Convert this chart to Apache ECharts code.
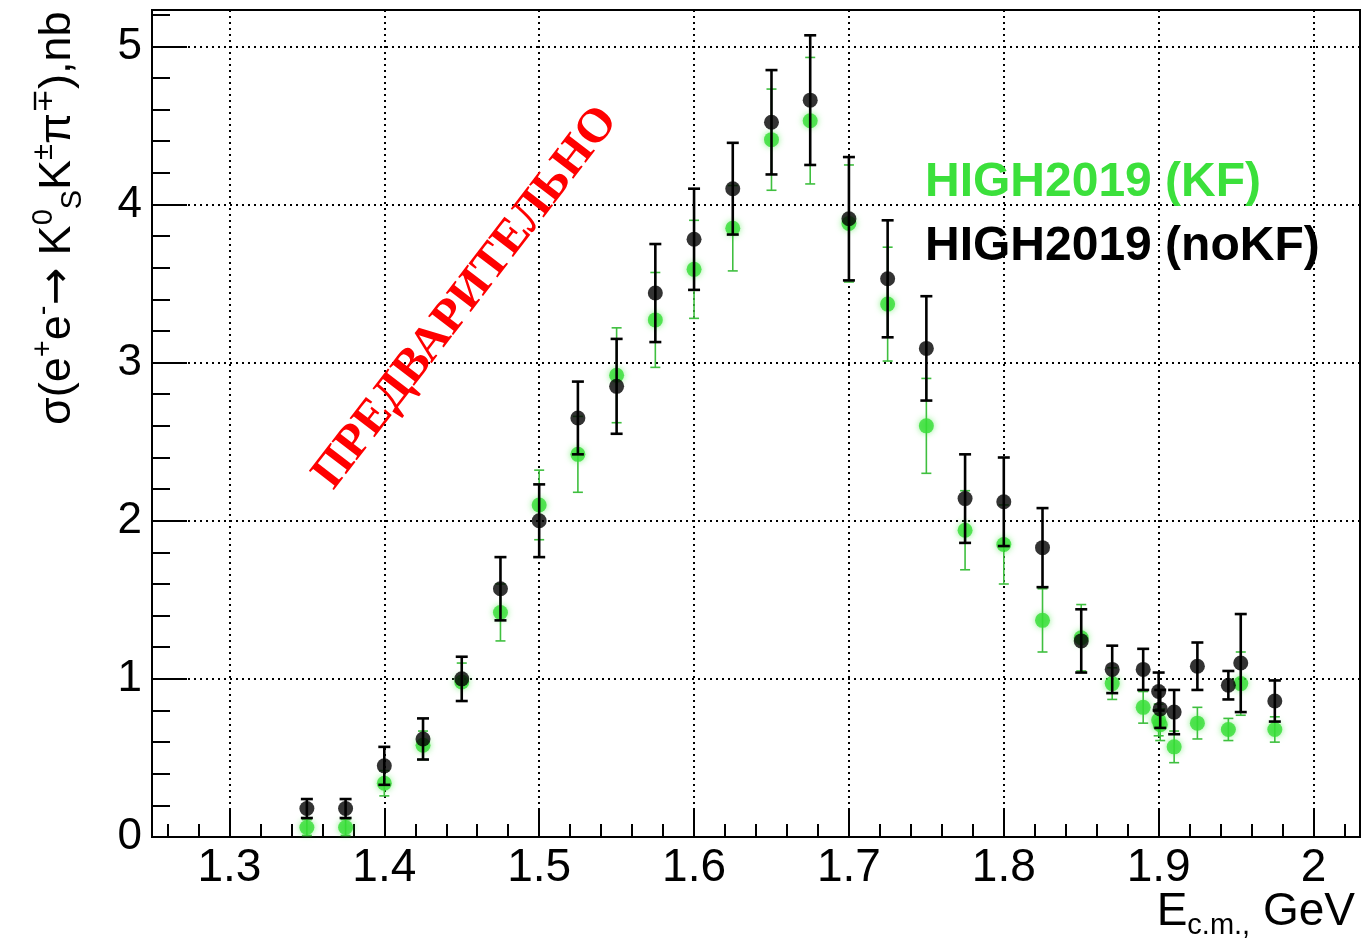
<!DOCTYPE html>
<html>
<head>
<meta charset="utf-8">
<script src="https://cdn.jsdelivr.net/npm/echarts@6/dist/echarts.min.js"></script>
<style>
html,body{margin:0;padding:0;background:#fff;}
#chart{width:1366px;height:947px;}
</style>
</head>
<body>
<div id="chart"></div>
<script>
// ---- data ----
const energyNoKF = [1.35,1.375,1.4,1.425,1.45,1.475,1.5,1.525,1.55,1.575,1.6,1.625,1.65,1.675,1.7,1.725,1.75,1.775,1.8,1.825,1.85,1.87,1.89,1.9,1.901,1.91,1.925,1.945,1.953,1.975];
const sigmaNoKF  = [0.18,0.18,0.45,0.62,1.00,1.57,2.00,2.65,2.85,3.44,3.78,4.10,4.52,4.66,3.91,3.53,3.09,2.14,2.12,1.83,1.24,1.06,1.06,0.92,0.81,0.79,1.08,0.96,1.10,0.86];
const errNoKF    = [0.06,0.06,0.12,0.13,0.14,0.20,0.23,0.23,0.30,0.31,0.32,0.29,0.33,0.41,0.39,0.37,0.33,0.28,0.28,0.25,0.20,0.15,0.13,0.12,0.12,0.14,0.15,0.09,0.31,0.13];

const energyKF = [1.35,1.375,1.4,1.425,1.45,1.475,1.5,1.525,1.55,1.575,1.6,1.625,1.65,1.675,1.7,1.725,1.75,1.775,1.8,1.825,1.85,1.87,1.89,1.9,1.901,1.91,1.925,1.945,1.953,1.975];
const sigmaKF  = [0.06,0.06,0.34,0.58,0.98,1.42,2.10,2.42,2.92,3.27,3.59,3.85,4.41,4.53,3.88,3.37,2.60,1.94,1.85,1.37,1.26,0.97,0.82,0.74,0.71,0.57,0.72,0.68,0.97,0.68];
const errKF    = [0.05,0.05,0.08,0.09,0.12,0.18,0.22,0.24,0.30,0.30,0.31,0.27,0.32,0.40,0.37,0.36,0.30,0.25,0.25,0.20,0.21,0.10,0.10,0.10,0.10,0.10,0.10,0.07,0.20,0.08];

const xMajorTicks = [1.3,1.4,1.5,1.6,1.7,1.8,1.9,2.0];
const xMinorTicks = [1.26,1.28,1.32,1.34,1.36,1.38,1.42,1.44,1.46,1.48,1.52,1.54,1.56,1.58,1.62,1.64,1.66,1.68,1.72,1.74,1.76,1.78,1.82,1.84,1.86,1.88,1.92,1.94,1.96,1.98,2.02];
const yMajorTicks = [0,1,2,3,4,5];
const yMinorTicks = [0.2,0.4,0.6,0.8,1.2,1.4,1.6,1.8,2.2,2.4,2.6,2.8,3.2,3.4,3.6,3.8,4.2,4.4,4.6,4.8,5.2];

const legendKF = 'HIGH2019 (KF)';
const legendNoKF = 'HIGH2019 (noKF)';
const watermark = 'ПРЕДВАРИТЕЛЬНО';

// ---- chart ----
const X_MIN = 1.25, X_MAX = 2.03, Y_MIN = 0, Y_MAX = 5.23;
const FONT = '"Liberation Sans", Arial, Helvetica, sans-serif';
const GRID = {left:152, top:10, width:1208, height:827};

function toTriples(xs, ys, es){ return xs.map((x,i)=>[x, ys[i], es[i]]); }

function errRender(color, width, cap){
  return function(params, api){
    const x = api.value(0), y = api.value(1), e = api.value(2);
    const top = api.coord([x, y + e]);
    const bot = api.coord([x, y - e]);
    const st = {stroke: color, lineWidth: width};
    return {type:'group', children:[
      {type:'line', shape:{x1:top[0], y1:top[1], x2:bot[0], y2:bot[1]}, style:st},
      {type:'line', shape:{x1:top[0]-cap, y1:top[1], x2:top[0]+cap, y2:top[1]}, style:st},
      {type:'line', shape:{x1:bot[0]-cap, y1:bot[1], x2:bot[0]+cap, y2:bot[1]}, style:st}
    ]};
  };
}

const chart = echarts.init(document.getElementById('chart'), null, {renderer:'canvas'});

const option = {
  animation:false,
  backgroundColor:'#ffffff',
  grid:[
    Object.assign({show:true, borderColor:'#000', borderWidth:2, backgroundColor:'transparent'}, GRID),
    Object.assign({show:false}, GRID)
  ],
  xAxis:[
    {gridIndex:0, type:'value', min:X_MIN, max:X_MAX, position:'bottom',
     axisLine:{show:true, onZero:false, lineStyle:{color:'#000', width:2}},
     axisTick:{show:true, inside:true, length:27, customValues:xMajorTicks, lineStyle:{color:'#000', width:2}},
     axisLabel:{show:true, customValues:xMajorTicks, color:'#000', fontSize:46, fontFamily:FONT, margin:8,
       formatter:v=>String(Math.round(v*10)/10)},
     splitLine:{show:true, lineStyle:{color:'#000', width:2, type:[2,4]}}},
    {gridIndex:1, type:'value', min:X_MIN, max:X_MAX, position:'bottom',
     axisLine:{show:false},
     axisTick:{show:true, inside:true, length:13, customValues:xMinorTicks, lineStyle:{color:'#000', width:2}},
     axisLabel:{show:false}, splitLine:{show:false}}
  ],
  yAxis:[
    {gridIndex:0, type:'value', min:Y_MIN, max:Y_MAX, position:'left',
     axisLine:{show:true, onZero:false, lineStyle:{color:'#000', width:2}},
     axisTick:{show:true, inside:true, length:35, customValues:yMajorTicks, lineStyle:{color:'#000', width:2}},
     axisLabel:{show:true, customValues:yMajorTicks, color:'#000', fontSize:44, fontFamily:FONT, margin:10},
     splitLine:{show:true, lineStyle:{color:'#000', width:2, type:[2,4]}}},
    {gridIndex:1, type:'value', min:Y_MIN, max:Y_MAX, position:'left',
     axisLine:{show:false},
     axisTick:{show:true, inside:true, length:18, customValues:yMinorTicks, lineStyle:{color:'#000', width:2}},
     axisLabel:{show:false}, splitLine:{show:false}}
  ],
  series:[
    {name:legendKF+' err', type:'custom', xAxisIndex:0, yAxisIndex:0, encode:{x:0, y:1},
     renderItem:errRender('#3fbf3f', 1.6, 5), data:toTriples(energyKF, sigmaKF, errKF), z:2, silent:true},
    {name:legendKF, type:'scatter', xAxisIndex:0, yAxisIndex:0, symbol:'circle', symbolSize:15,
     itemStyle:{color:'#35dd35', shadowBlur:6, shadowColor:'rgba(60,230,60,0.7)'},
     data:energyKF.map((x,i)=>[x, sigmaKF[i]]), z:3, silent:true},
    {name:legendNoKF+' err', type:'custom', xAxisIndex:0, yAxisIndex:0, encode:{x:0, y:1},
     renderItem:errRender('#000000', 2.6, 6), data:toTriples(energyNoKF, sigmaNoKF, errNoKF), z:4, silent:true},
    {name:legendNoKF, type:'scatter', xAxisIndex:0, yAxisIndex:0, symbol:'circle', symbolSize:15,
     itemStyle:{color:'#000000'},
     data:energyNoKF.map((x,i)=>[x, sigmaNoKF[i]]), z:5, silent:true}
  ],
  graphic:[
    {type:'text', x:925, y:183, z:50, style:{text:legendKF, fill:'#3be03b', font:'bold 48px ' + FONT, verticalAlign:'middle', align:'left'}},
    {type:'text', x:925, y:247, z:50, style:{text:legendNoKF, fill:'#000', font:'bold 48px ' + FONT, verticalAlign:'middle', align:'left'}},
    {type:'text', x:466, y:298, rotation:0.915, z:60,
     style:{text:watermark, fill:'#ff0000', font:'bold 48px "Liberation Serif", "Times New Roman", serif', align:'center', verticalAlign:'middle'}},
    {type:'text', x:58, y:425, rotation:Math.PI/2, z:50,
     style:{
       text:'{m|σ(e}{sp|+}{m|e}{sp|-}{ar|→}{m| K}{sp|0}{sb|S}{m|K}{sp|±}{m|π}{sp|∓}{m|),nb}',
       align:'left', verticalAlign:'middle',
       rich:{
         m:{fontSize:45, fontFamily:FONT, fill:'#000', lineHeight:58, verticalAlign:'middle'},
         ar:{fontSize:45, fontFamily:'"DejaVu Sans", sans-serif', fill:'#000', lineHeight:58, verticalAlign:'middle'},
         sp:{fontSize:29, fontFamily:FONT, fill:'#000', lineHeight:25, verticalAlign:'top'},
         sb:{fontSize:29, fontFamily:FONT, fill:'#000', lineHeight:25, verticalAlign:'bottom'}
       }
     }},
    {type:'text', x:1355, y:912, z:50,
     style:{
       text:'{m|E}{sb|c.m.,}{m| GeV}',
       align:'right', verticalAlign:'middle',
       rich:{
         m:{fontSize:46, fontFamily:FONT, fill:'#000', lineHeight:56, verticalAlign:'middle'},
         sb:{fontSize:29, fontFamily:FONT, fill:'#000', lineHeight:26, verticalAlign:'bottom'}
       }
     }}
  ]
};
chart.setOption(option);
</script>
</body>
</html>
